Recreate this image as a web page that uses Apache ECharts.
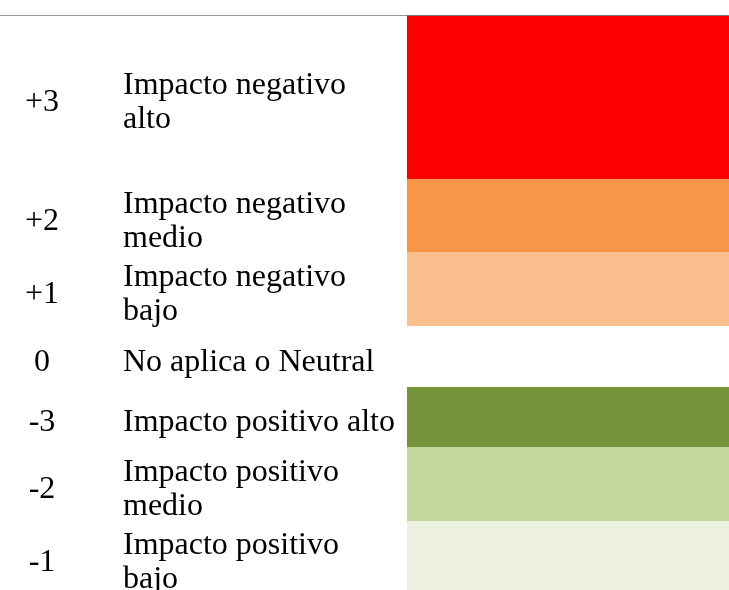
<!DOCTYPE html>
<html>
<head>
<meta charset="utf-8">
<script src="https://cdn.jsdelivr.net/npm/echarts@6/dist/echarts.min.js"></script>
<style>
  html, body { margin: 0; padding: 0; background: #fff; }
  #chart { width: 729px; height: 590px; }
</style>
</head>
<body>
<div id="chart"></div>
<script>
// table rows, top to bottom
const codes = ['+3', '+2', '+1', '0', '-3', '-2', '-1']
const labels = [
  'Impacto negativo\nalto',
  'Impacto negativo\nmedio',
  'Impacto negativo\nbajo',
  'No aplica o Neutral',
  'Impacto positivo alto',
  'Impacto positivo\nmedio',
  'Impacto positivo\nbajo'
]
const swatchColors = ['#ff0000', '#f79646', '#fac090', null, '#77933c', '#c3d69b', '#ebf1de']
// relative height of each row (last one runs a little past the bottom edge)
const rowHeights = [164, 73, 74, 61, 60, 74, 71]
const OVERFLOW = 2

const total = rowHeights.reduce((a, b) => a + b, 0)
let acc = 0
const rows = rowHeights.map((h, i) => {
  const item = [i, acc, acc + h]
  acc += h
  return item
})

const CODE_X = 42
const LABEL_X = 123
const SWATCH_X = 407
const TEXT_SHIFT = 6
const FONT = '32px "Liberation Serif", "Times New Roman", serif'

const chart = echarts.init(document.getElementById('chart'))

chart.setOption({
  animation: false,
  grid: { left: 0, right: 0, top: 15, bottom: 0 },
  xAxis: {
    type: 'value',
    position: 'top',
    min: 0,
    max: 729,
    z: 5,
    axisLine: { show: true, lineStyle: { color: '#808080', type: 'dotted', width: 1 } },
    axisTick: { show: false },
    axisLabel: { show: false },
    splitLine: { show: false }
  },
  yAxis: {
    type: 'value',
    inverse: true,
    min: 0,
    max: total - OVERFLOW,
    show: false,
    splitLine: { show: false }
  },
  series: [{
    type: 'custom',
    clip: false,
    data: rows,
    renderItem: (params, api) => {
      const i = api.value(0)
      const top = api.coord([0, api.value(1)])[1]
      const bottom = api.coord([0, api.value(2)])[1]
      const mid = (top + bottom) / 2 + TEXT_SHIFT
      const sx = api.coord([SWATCH_X, 0])[0]
      const ex = api.coord([729, 0])[0]
      const children = []
      if (swatchColors[i]) {
        children.push({
          type: 'rect',
          shape: { x: sx, y: top, width: ex - sx, height: bottom - top },
          style: { fill: swatchColors[i] }
        })
      }
      children.push({
        type: 'text',
        style: {
          text: codes[i], x: api.coord([CODE_X, 0])[0], y: mid,
          font: FONT, fill: '#000', align: 'center', verticalAlign: 'middle'
        }
      })
      children.push({
        type: 'text',
        style: {
          text: labels[i], x: api.coord([LABEL_X, 0])[0], y: mid,
          font: FONT, fill: '#000', align: 'left', verticalAlign: 'middle', lineHeight: 34
        }
      })
      return { type: 'group', children }
    }
  }]
})
</script>
</body>
</html>
